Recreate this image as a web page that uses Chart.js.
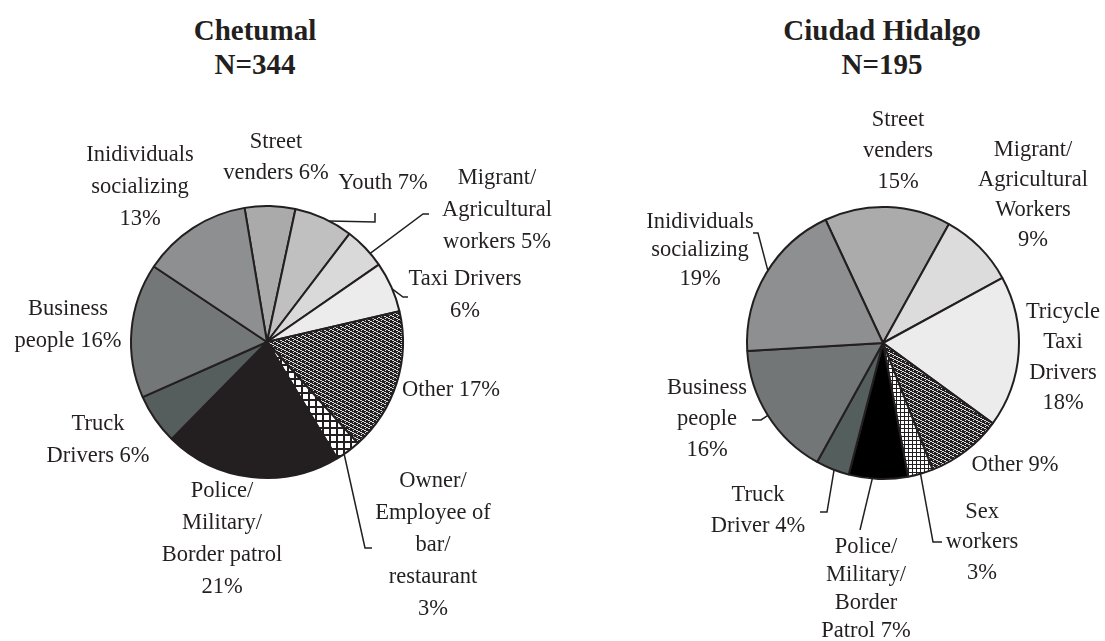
<!DOCTYPE html>
<html lang="en">
<head>
  <meta charset="UTF-8">
  <title>Chetumal / Ciudad Hidalgo</title>
  <script src="https://cdn.jsdelivr.net/npm/chart.js"></script>
  <style>
    body { margin: 0; background: #fff; width: 1105px; height: 641px; position: relative; overflow: hidden; font-family: 'Liberation Serif', serif; }
    .titulo { position: absolute; top: 13px; width: 320px; text-align: center; font-weight: bold; font-size: 29px; line-height: 34px; color: #231f20; }
    .caixa { position: absolute; top: 0; height: 641px; }
  </style>
</head>

<body>
  <div class="titulo" style="left:95px">Chetumal<br>N=344</div>
  <div class="titulo" style="left:722px">Ciudad Hidalgo<br>N=195</div>

  <div class="caixa" style="left:0; width:552px"><canvas id="graficoChetumal"></canvas></div>
  <div class="caixa" style="left:552px; width:553px"><canvas id="graficoHidalgo"></canvas></div>

<script>
  // Dados
  var chetumalCategorias = ['Street venders', 'Youth', 'Migrant/Agricultural workers', 'Taxi Drivers', 'Other',
    'Owner/Employee of bar/restaurant', 'Police/Military/Border patrol', 'Truck Drivers', 'Business people', 'Inidividuals socializing'];
  var chetumalValores = [6, 7, 5, 6, 17, 3, 21, 6, 16, 13];
  var chetumalTextos = [['Street', 'venders {p}'], ['Youth {p}'], ['Migrant/', 'Agricultural', 'workers {p}'], ['Taxi Drivers', '{p}'],
    ['Other {p}'], ['Owner/', 'Employee of', 'bar/', 'restaurant', '{p}'], ['Police/', 'Military/', 'Border patrol', '{p}'],
    ['Truck', 'Drivers {p}'], ['Business', 'people {p}'], ['Inidividuals', 'socializing', '{p}']];

  var hidalgoCategorias = ['Street venders', 'Migrant/Agricultural Workers', 'Tricycle Taxi Drivers', 'Other', 'Sex workers',
    'Police/Military/Border Patrol', 'Truck Driver', 'Business people', 'Inidividuals socializing'];
  var hidalgoValores = [15, 9, 18, 9, 3, 7, 4, 16, 19];
  var hidalgoTextos = [['Street', 'venders', '{p}'], ['Migrant/', 'Agricultural', 'Workers', '{p}'], ['Tricycle', 'Taxi', 'Drivers', '{p}'],
    ['Other {p}'], ['Sex', 'workers', '{p}'], ['Police/', 'Military/', 'Border', 'Patrol {p}'], ['Truck', 'Driver {p}'],
    ['Business', 'people', '{p}'], ['Inidividuals', 'socializing', '{p}']];

  // Padrões de preenchimento
  function padraoTrama() {
    var c = document.createElement('canvas');
    c.width = 8; c.height = 8;
    var g = c.getContext('2d');
    g.fillStyle = '#231f20';
    g.fillRect(0, 0, 8, 8);
    g.fillStyle = '#dcdcdc';
    for (var y = 0; y < 8; y++) {
      g.fillRect((2 * y) % 8, y, 2, 1);
      g.fillRect((13 - 2 * y + 16) % 8, y, 1, 1);
    }
    return g.createPattern(c, 'repeat');
  }

  function padraoGrade(n, w) {
    var c = document.createElement('canvas');
    c.width = n; c.height = n;
    var g = c.getContext('2d');
    g.fillStyle = '#ffffff';
    g.fillRect(0, 0, n, n);
    g.fillStyle = '#231f20';
    g.fillRect(0, 0, n, w);
    g.fillRect(0, 0, w, n);
    return g.createPattern(c, 'repeat');
  }

  // Plugin que escreve os rótulos e as linhas-guia
  function criarRotulos(layout) {
    return {
      id: 'rotulos',
      afterDraw: function (chart) {
        var ctx = chart.ctx;
        var meta = chart.getDatasetMeta(0);
        var valores = chart.data.datasets[0].data;
        ctx.save();
        ctx.font = '22.5px "Liberation Serif"';
        ctx.fillStyle = '#231f20';
        ctx.strokeStyle = '#231f20';
        ctx.lineWidth = 1.5;
        ctx.textAlign = 'center';
        ctx.textBaseline = 'middle';
        meta.data.forEach(function (arc, i) {
          var cx = arc.x, cy = arc.y, r = arc.outerRadius;
          var pos = layout.posicoes[i];
          var passo = pos[2] || layout.entrelinha;
          layout.textos[i].forEach(function (linha, k) {
            ctx.fillText(linha.replace('{p}', valores[i] + '%'), cx + pos[0], cy + pos[1] + k * passo);
          });
          var guia = layout.guias[i];
          if (guia) {
            var ang = arc.startAngle + (arc.endAngle - arc.startAngle) * guia.frac;
            ctx.beginPath();
            ctx.moveTo(cx + Math.cos(ang) * r, cy + Math.sin(ang) * r);
            guia.pts.forEach(function (p) { ctx.lineTo(cx + p[0], cy + p[1]); });
            ctx.stroke();
          }
        });
        ctx.restore();
      }
    };
  }

  function plotarPizza(id, categorias, valores, cores, rotacao, padding, layout) {
    var ctx = document.getElementById(id).getContext('2d');
    return new Chart(ctx, {
      type: 'pie',
      data: {
        labels: categorias,
        datasets: [{
          data: valores,
          backgroundColor: cores,
          borderColor: '#231f20',
          borderWidth: 2
        }]
      },
      options: {
        responsive: true,
        maintainAspectRatio: false,
        animation: false,
        events: [],
        rotation: rotacao,
        layout: { padding: padding },
        plugins: {
          legend: { display: false },
          tooltip: { enabled: false }
        }
      },
      plugins: [criarRotulos(layout)]
    });
  }

  plotarPizza('graficoChetumal', chetumalCategorias, chetumalValores,
    ['#aaaaaa', '#c0c0c0', '#d9d9d9', '#ececec', padraoTrama(), padraoGrade(7, 2), '#231f20', '#555e5c', '#737778', '#8e8f90'],
    -9.5, { left: 130, right: 148, top: 205, bottom: 162 },
    {
      textos: chetumalTextos,
      entrelinha: 32,
      posicoes: [[9, -200, 31], [116, -159], [230, -164], [198, -63], [184, 48], [166, 139], [-45, 149], [-169, 82], [-199, -33], [-127, -187]],
      guias: [null,
        { frac: 0.6, pts: [[108, -120], [108, -129]] },
        { frac: 0.67, pts: [[156, -128], [162, -128]] },
        { frac: 0.54, pts: [[136, -45], [141, -45]] },
        null,
        { frac: 0.68, pts: [[98, 206], [105, 206]] },
        null, null, null, null]
    });

  plotarPizza('graficoHidalgo', hidalgoCategorias, hidalgoValores,
    ['#ababab', '#dcdcdc', '#ececec', padraoTrama(), padraoGrade(4, 1), '#000000', '#545e5c', '#727677', '#8e8f90'],
    -25, { left: 194, right: 85, top: 206, bottom: 161 },
    {
      textos: hidalgoTextos,
      entrelinha: 30.5,
      posicoes: [[15, -223, 31], [150, -193, 30], [180, -31], [132, 122], [99, 169], [-17, 204, 28], [-125, 152, 31], [-176, 45, 31], [-183, -121, 28.5]],
      guias: [null, null, null, null,
        { frac: 0.5, pts: [[50, 199], [59, 199]] },
        { frac: 0.6, pts: [[-23, 187]] },
        { frac: 0.45, pts: [[-56, 169], [-63, 169]] },
        { frac: 0.5, pts: [[-122, 77], [-131, 77]] },
        { frac: 0.52, pts: [[-125, -110], [-130, -110]] }]
    });
</script>
</body>

</html>
